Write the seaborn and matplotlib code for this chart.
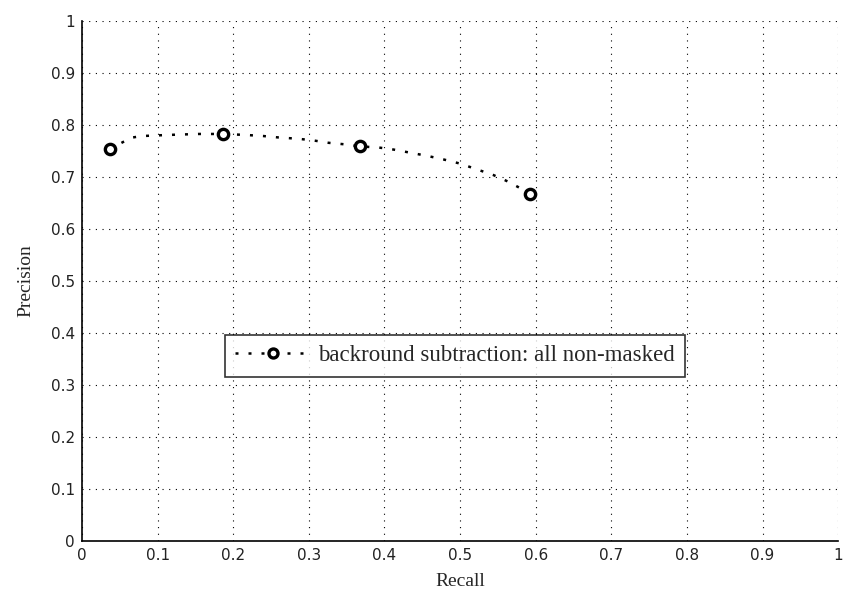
import numpy as np
import pandas as pd
import matplotlib
matplotlib.use("Agg")
import matplotlib.pyplot as plt
from matplotlib.lines import Line2D
import seaborn as sns

# Operating points (markers)
recall = [0.037, 0.186, 0.368, 0.593]
precision = [0.754, 0.783, 0.759, 0.668]

# Points along the dotted curve
curve_recall = [0.037, 0.055, 0.066, 0.079, 0.112, 0.132, 0.154, 0.186,
                0.218, 0.240, 0.262, 0.284, 0.304, 0.326, 0.348, 0.368,
                0.392, 0.412, 0.434, 0.456, 0.478, 0.500, 0.522, 0.544,
                0.564, 0.593]
curve_precision = [0.754, 0.768, 0.776, 0.779, 0.781, 0.782, 0.783, 0.783,
                   0.781, 0.779, 0.776, 0.774, 0.771, 0.766, 0.763, 0.759,
                   0.757, 0.753, 0.747, 0.741, 0.734, 0.726, 0.715, 0.704,
                   0.691, 0.668]

ticks = [0, 0.1, 0.2, 0.3, 0.4, 0.5, 0.6, 0.7, 0.8, 0.9, 1]
tick_labels = ["0", "0.1", "0.2", "0.3", "0.4", "0.5", "0.6", "0.7", "0.8", "0.9", "1"]
legend_label = "backround subtraction: all non-masked"

df_curve = pd.DataFrame({"Recall": curve_recall, "Precision": curve_precision})
df_pts = pd.DataFrame({"Recall": recall, "Precision": precision})

sns.set_style("white")
plt.rcParams["font.family"] = ["Liberation Serif", "DejaVu Serif"]

fig = plt.figure(figsize=(8.45, 6.01), dpi=100)
ax = fig.add_axes([0.097, 0.0998, 0.895, 0.865])

ax.grid(True, color="black", linestyle=(0, (1, 5)), linewidth=0.8)
ax.set_axisbelow(True)

sns.lineplot(data=df_curve, x="Recall", y="Precision", sort=False, ax=ax,
             color="black", linestyle=(0, (1.2, 4)), linewidth=1.8)
sns.scatterplot(data=df_pts, x="Recall", y="Precision", ax=ax, s=55,
                marker="o", facecolor="white", edgecolor="black", linewidth=2.4,
                zorder=5)

ax.set_xlim(0, 1)
ax.set_ylim(0, 1)
ax.set_xticks(ticks)
ax.set_yticks(ticks)
ax.set_xticklabels(tick_labels, family="DejaVu Sans", fontsize=11, color="#222222")
ax.set_yticklabels(tick_labels, family="DejaVu Sans", fontsize=11, color="#222222")
ax.tick_params(direction="in", length=4, width=1, color="black", pad=5)

for side in ["top", "right"]:
    ax.spines[side].set_visible(False)
for side in ["left", "bottom"]:
    ax.spines[side].set_color("black")
    ax.spines[side].set_linewidth(1.2)

ax.set_xlabel("Recall", fontsize=14, labelpad=7)
ax.set_ylabel("Precision", fontsize=14, labelpad=12)

handle = Line2D([], [], color="black", linestyle=(0, (1.2, 4)), linewidth=1.8,
                marker="o", markersize=6.5, markerfacecolor="white",
                markeredgecolor="black", markeredgewidth=2.4)
leg = ax.legend([handle], [legend_label], loc="center", bbox_to_anchor=(0.493, 0.356),
                fontsize=16.5, frameon=True, fancybox=False, handlelength=3.3,
                borderpad=0.45, handletextpad=0.3)
leg.get_frame().set_edgecolor("black")
leg.get_frame().set_linewidth(1.2)

fig.savefig("out.png", dpi=100)
